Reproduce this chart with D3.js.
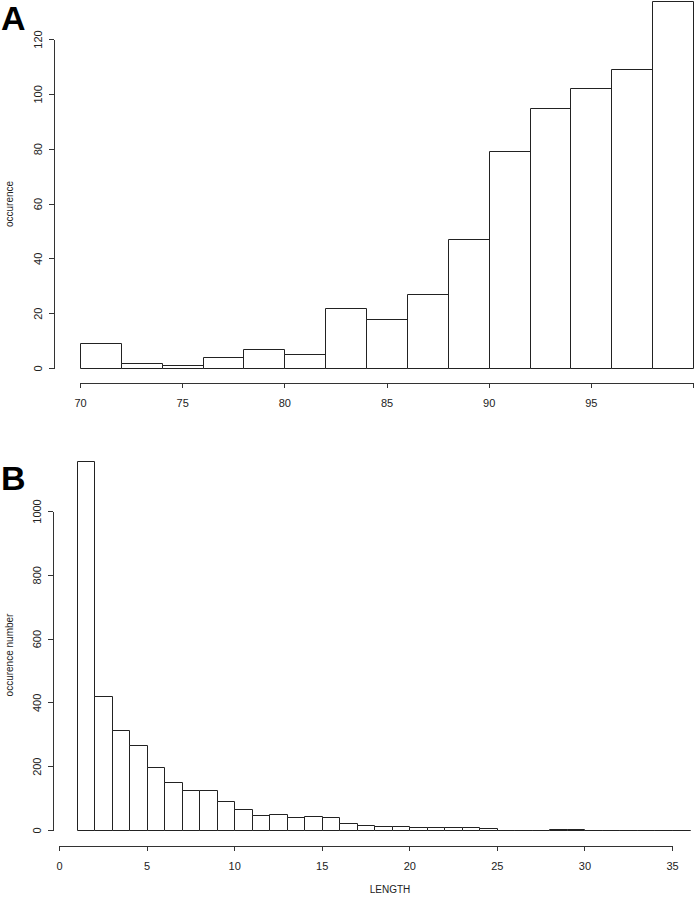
<!DOCTYPE html>
<html>
<head>
<meta charset="utf-8">
<script src="https://cdn.jsdelivr.net/npm/d3@7"></script>
<style>
  body { margin: 0; background: #fff; }
  svg { display: block; font-family: "Liberation Sans", Arial, sans-serif; }
  .axis path, .axis line { stroke: #333; shape-rendering: crispEdges; }
  .axis text { font-size: 11px; fill: #222; }
</style>
</head>
<body>
<div id="chart"></div>
<script>
// panel A: identity (%) histogram, bins of 2
var identStarts = [70, 72, 74, 76, 78, 80, 82, 84, 86, 88, 90, 92, 94, 96, 98];
var identCounts = [9, 2, 1, 4, 7, 5, 22, 18, 27, 47, 79, 95, 102, 109, 134];
var identTicks = [70, 75, 80, 85, 90, 95, 100];
var countTicksA = [0, 20, 40, 60, 80, 100, 120];

// panel B: LENGTH histogram, bins of 1
var lengthStarts = [1, 2, 3, 4, 5, 6, 7, 8, 9, 10, 11, 12, 13, 14, 15, 16, 17, 18,
                    19, 20, 21, 22, 23, 24, 25, 26, 27, 28, 29, 30, 31, 32, 33, 34, 35];
var lengthCounts = [1157, 420, 315, 268, 198, 150, 125, 125, 90, 66, 46, 49, 41, 43, 41, 23, 16, 11,
                    14, 8, 10, 10, 10, 5, 1, 1, 1, 4, 4, 1, 1, 1, 1, 1, 1];
var lengthTicks = [0, 5, 10, 15, 20, 25, 30, 35];
var countTicksB = [0, 200, 400, 600, 800, 1000];

var svg = d3.select("#chart")
  .append("svg")
    .attr("width", 698)
    .attr("height", 900);

function panel(opt) {
  var x = d3.scaleLinear().domain(opt.xDomain).range(opt.xRange);
  var y = d3.scaleLinear().domain(opt.yDomain).range(opt.yRange);

  // bars as closed paths so that tiny counts still show as a line
  svg.append("g")
    .selectAll("path")
    .data(opt.starts)
    .enter().append("path")
      .attr("d", function(d, i) {
        var x0 = Math.round(x(d)) + 0.5,
            x1 = Math.round(x(d + opt.binWidth)) + 0.5,
            y0 = Math.round(y(0)) + 0.5,
            yt = Math.round(y(opt.counts[i])) + 0.5;
        return "M" + x0 + "," + y0 + "V" + yt + "H" + x1 + "V" + y0 + "Z";
      })
      .attr("fill", "white")
      .attr("stroke", "#222")
      .attr("stroke-width", 1);

  // y axis
  var gy = svg.append("g")
    .attr("class", "axis")
    .attr("transform", "translate(" + opt.yAxisX + ",0)")
    .call(d3.axisLeft(y).tickValues(opt.yTicks).tickSize(5).tickSizeOuter(0)
      .tickFormat(d3.format("d")));
  gy.selectAll("text")
    .attr("x", null)
    .attr("dy", null)
    .attr("text-anchor", "middle")
    .attr("transform", "translate(-12,0) rotate(-90)");

  // x axis
  svg.append("g")
    .attr("class", "axis")
    .attr("transform", "translate(0," + opt.xAxisY + ")")
    .call(d3.axisBottom(x).tickValues(opt.xTicks).tickSize(5).tickSizeOuter(0).tickPadding(11)
      .tickFormat(function(d) { return opt.hideTick === d ? "" : d; }));

  // y title
  svg.append("text")
    .attr("transform", "translate(13," + opt.yTitleY + ") rotate(-90)")
    .attr("text-anchor", "middle")
    .style("font-size", "10px")
    .style("fill", "#222")
    .text(opt.yTitle);

  // panel letter
  svg.append("text")
    .attr("x", 1)
    .attr("y", opt.letterY)
    .style("font-size", "34px")
    .style("font-weight", "bold")
    .style("fill", "#000")
    .text(opt.letter);
}

panel({
  starts: identStarts, counts: identCounts, binWidth: 2,
  xDomain: [70, 100], xRange: [80, 693],
  yDomain: [0, 120], yRange: [368, 39],
  xTicks: identTicks, yTicks: countTicksA, hideTick: 100,
  yAxisX: 54, xAxisY: 383,
  yTitle: "occurence", yTitleY: 204,
  letter: "A", letterY: 30
});

panel({
  starts: lengthStarts, counts: lengthCounts, binWidth: 1,
  xDomain: [0, 35], xRange: [59, 672],
  yDomain: [0, 1000], yRange: [830, 511],
  xTicks: lengthTicks, yTicks: countTicksB,
  yAxisX: 53, xAxisY: 846,
  yTitle: "occurence number", yTitleY: 655,
  letter: "B", letterY: 490
});

svg.append("text")
  .attr("x", 390)
  .attr("y", 893)
  .attr("text-anchor", "middle")
  .style("font-size", "10px")
  .style("fill", "#222")
  .text("LENGTH");
</script>
</body>
</html>
